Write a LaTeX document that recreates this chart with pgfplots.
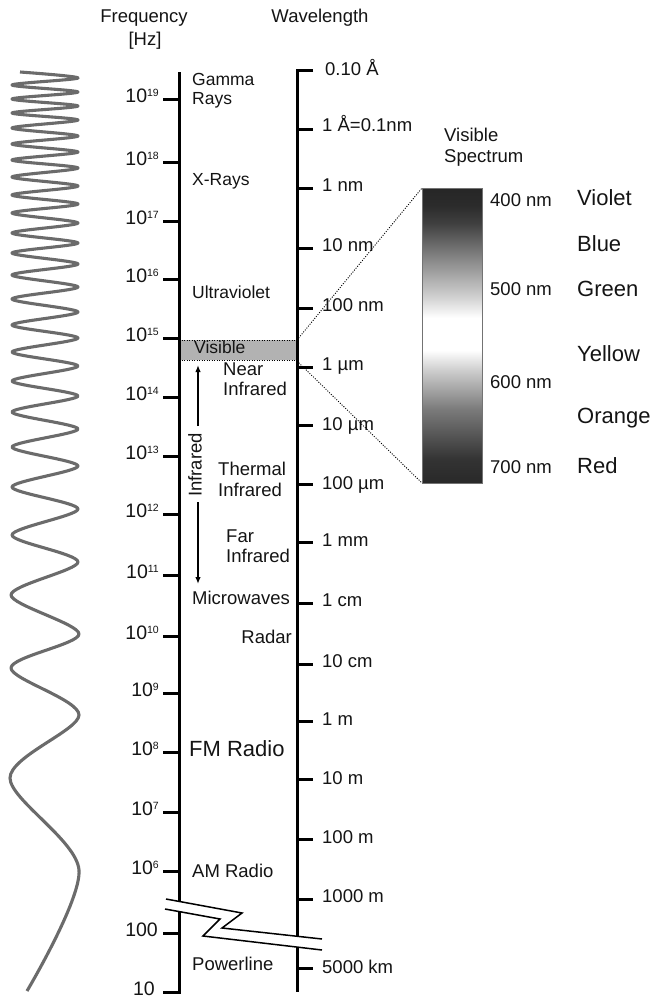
\documentclass[border=0pt]{standalone}
\usepackage{pgfplots}
\pgfplotsset{compat=1.18}
\usepackage{fontspec}
\setmainfont{Liberation Sans}
\usetikzlibrary{arrows.meta}
\pgfdeclareverticalshading{visspec}{100bp}{color(0bp)=(black!84); color(25bp)=(black!84); color(29bp)=(black!80); color(37.5bp)=(black!52); color(44bp)=(black!20); color(47.5bp)=(white); color(53bp)=(white); color(56.5bp)=(black!18); color(62.5bp)=(black!45); color(69bp)=(black!75); color(72bp)=(black!83); color(75bp)=(black!85); color(100bp)=(black!85)}
\tikzset{lab/.style={inner sep=0pt, text height=0.72em, text depth=0pt, text=black!92, font=\fontsize{18.5}{20}\selectfont},
 labs/.style={lab, font=\fontsize{17.5}{20}\selectfont},
 labt/.style={lab, font=\fontsize{19.5}{20}\selectfont},
 labl/.style={lab, font=\fontsize{22}{24}\selectfont}}
\newcommand{\pw}[1]{10\raisebox{6.5pt}{\fontsize{10.5}{10}\selectfont #1}}
\begin{document}
\begin{tikzpicture}
\begin{axis}[width=652pt, height=1002pt, scale only axis, xmin=0, xmax=652, ymin=0, ymax=1002, y dir=reverse, hide axis, clip=false, unbounded coords=jump]
% visible band
\addplot[fill=black!30, draw=none] coordinates {(179,340) (297,340) (297,360) (179,360) (179,340)};
\addplot[black, line width=0.9pt, dash pattern=on 1pt off 1.5pt] coordinates {(179,340) (297,340) (nan,nan) (179,360) (297,360)};
% connectors
\addplot[black, line width=0.9pt, dash pattern=on 1pt off 1.5pt] coordinates {(297,340) (422,188) (nan,nan) (297,361) (422,483)};
% spectrum bar
\addplot[draw=black!55, line width=0.8pt, shading=visspec] coordinates {(422,188) (482,188) (482,483) (422,483) (422,188)};
% axes
\addplot[black, line width=3pt] coordinates {(179,72) (179,992) (163,992)};
\addplot[black, line width=3pt] coordinates {(313,70) (297,70) (297,992)};
% frequency ticks
\addplot[black, line width=3pt] coordinates {(163,99) (179,99) (nan,nan) (163,162) (179,162) (nan,nan) (163,221) (179,221) (nan,nan) (163,279) (179,279) (nan,nan) (163,338) (179,338) (nan,nan) (163,397) (179,397) (nan,nan) (163,456) (179,456) (nan,nan) (163,514) (179,514) (nan,nan) (163,575) (179,575) (nan,nan) (163,636) (179,636) (nan,nan) (163,693) (179,693) (nan,nan) (163,752) (179,752) (nan,nan) (163,812) (179,812) (nan,nan) (163,871) (179,871) (nan,nan) (163,933) (179,933)};
% wavelength ticks
\addplot[black, line width=3pt] coordinates {(297,129) (313,129) (nan,nan) (297,188) (313,188) (nan,nan) (297,248) (313,248) (nan,nan) (297,308) (313,308) (nan,nan) (297,367) (313,367) (nan,nan) (297,425) (313,425) (nan,nan) (297,484) (313,484) (nan,nan) (297,542) (313,542) (nan,nan) (297,603) (313,603) (nan,nan) (297,664) (313,664) (nan,nan) (297,721) (313,721) (nan,nan) (297,779) (313,779) (nan,nan) (297,839) (313,839) (nan,nan) (297,899) (313,899) (nan,nan) (297,968) (313,968)};
% break
\addplot[fill=white, draw=none] coordinates {(166,899) (242,913) (222,928) (322,939) (322,950) (203,936) (220,919) (165,909) (166,899)};
\addplot[black, line width=1.5pt] coordinates {(166,899) (242,913) (222,928) (322,939) (nan,nan) (165,909) (220,919) (203,936) (322,950)};
% infrared arrows
\addplot[black, line width=1.4pt, -{Latex[length=7pt,width=5.5pt]}] coordinates {(198,426) (198,365)};
\addplot[black, line width=1.4pt, -{Latex[length=7pt,width=5.5pt]}] coordinates {(198,502) (198,584)};
% wave
\addplot[black!58, line width=3.1pt, smooth, line join=round] coordinates {(20,72) (78,78) (12,85) (78,92) (12,99) (78,106) (12,113) (78,120) (12,128) (78,136) (12,144) (78,152) (12,160) (78,168) (12,177) (78,186) (12,195) (78,204) (12,213) (78,223) (12,233) (78,243) (12,253) (78,264) (12,275) (78,287) (12,299) (78,312) (12,325) (78,338) (12,352) (78,366) (12,381) (78,396) (12,412) (78,429) (12,447) (78,466) (12,487) (78,509) (12,535) (78,562) (11,595) (79,634) (11,668) (79,715) (10,778) (79,870) (27,991)};
% headers
\node[lab, anchor=center] at (axis cs:144,19) {Frequency};
\node[lab, anchor=center] at (axis cs:145,42) {[Hz]};
\node[lab, anchor=center] at (axis cs:320,19) {Wavelength};
% frequency labels
\node[labt, anchor=east] at (axis cs:159,99) {\pw{19}};
\node[labt, anchor=east] at (axis cs:159,162) {\pw{18}};
\node[labt, anchor=east] at (axis cs:159,221) {\pw{17}};
\node[labt, anchor=east] at (axis cs:159,279) {\pw{16}};
\node[labt, anchor=east] at (axis cs:159,338) {\pw{15}};
\node[labt, anchor=east] at (axis cs:159,397) {\pw{14}};
\node[labt, anchor=east] at (axis cs:159,456) {\pw{13}};
\node[labt, anchor=east] at (axis cs:159,514) {\pw{12}};
\node[labt, anchor=east] at (axis cs:159,575) {\pw{11}};
\node[labt, anchor=east] at (axis cs:159,636) {\pw{10}};
\node[labt, anchor=east] at (axis cs:159,693) {\pw{9}};
\node[labt, anchor=east] at (axis cs:159,752) {\pw{8}};
\node[labt, anchor=east] at (axis cs:159,812) {\pw{7}};
\node[labt, anchor=east] at (axis cs:159,871) {\pw{6}};
\node[labt, anchor=east] at (axis cs:158,933) {100};
\node[labt, anchor=east] at (axis cs:155,992) {10};
% band labels
\node[labs, anchor=west] at (axis cs:192,82) {Gamma};
\node[labs, anchor=west] at (axis cs:192,101) {Rays};
\node[labs, anchor=west] at (axis cs:192,182) {X-Rays};
\node[labs, anchor=west] at (axis cs:192,295) {Ultraviolet};
\node[labs, anchor=west] at (axis cs:194,350) {Visible};
\node[lab, anchor=west] at (axis cs:223,372) {Near};
\node[lab, anchor=west] at (axis cs:223,392) {Infrared};
\node[lab, anchor=center, rotate=90] at (axis cs:198,465) {Infrared};
\node[lab, anchor=west] at (axis cs:218,472) {Thermal};
\node[lab, anchor=west] at (axis cs:218,493) {Infrared};
\node[lab, anchor=west] at (axis cs:226,539) {Far};
\node[lab, anchor=west] at (axis cs:226,559) {Infrared};
\node[lab, anchor=west] at (axis cs:192,601) {Microwaves};
\node[lab, anchor=east] at (axis cs:292,640) {Radar};
\node[labl, anchor=west] at (axis cs:189,753) {FM Radio};
\node[lab, anchor=west] at (axis cs:192,874) {AM Radio};
\node[lab, anchor=west] at (axis cs:192,967) {Powerline};
% wavelength labels
\node[lab, anchor=west] at (axis cs:325,72) {0.10 Å};
\node[lab, anchor=west] at (axis cs:322,128) {1 Å=0.1nm};
\node[lab, anchor=west] at (axis cs:322,188) {1 nm};
\node[lab, anchor=west] at (axis cs:322,248) {10 nm};
\node[lab, anchor=west] at (axis cs:322,308) {100 nm};
\node[lab, anchor=west] at (axis cs:322,367) {1 µm};
\node[lab, anchor=west] at (axis cs:322,427) {10 µm};
\node[lab, anchor=west] at (axis cs:322,486) {100 µm};
\node[lab, anchor=west] at (axis cs:322,543) {1 mm};
\node[lab, anchor=west] at (axis cs:322,603) {1 cm};
\node[lab, anchor=west] at (axis cs:322,664) {10 cm};
\node[lab, anchor=west] at (axis cs:322,722) {1 m};
\node[lab, anchor=west] at (axis cs:322,781) {10 m};
\node[lab, anchor=west] at (axis cs:322,840) {100 m};
\node[lab, anchor=west] at (axis cs:322,899) {1000 m};
\node[lab, anchor=west] at (axis cs:322,970) {5000 km};
% spectrum labels
\node[lab, anchor=west] at (axis cs:444,138) {Visible};
\node[lab, anchor=west] at (axis cs:444,159) {Spectrum};
\node[lab, anchor=west] at (axis cs:490,203) {400 nm};
\node[lab, anchor=west] at (axis cs:490,292) {500 nm};
\node[lab, anchor=west] at (axis cs:490,385) {600 nm};
\node[lab, anchor=west] at (axis cs:490,470) {700 nm};
\node[labl, anchor=west] at (axis cs:577,202) {Violet};
\node[labl, anchor=west] at (axis cs:577,248) {Blue};
\node[labl, anchor=west] at (axis cs:577,293) {Green};
\node[labl, anchor=west] at (axis cs:577,358) {Yellow};
\node[labl, anchor=west] at (axis cs:577,420) {Orange};
\node[labl, anchor=west] at (axis cs:577,470) {Red};
\end{axis}
\pgfresetboundingbox
\path[use as bounding box] (current axis.south west) rectangle (current axis.north east);
\end{tikzpicture}
\end{document}
